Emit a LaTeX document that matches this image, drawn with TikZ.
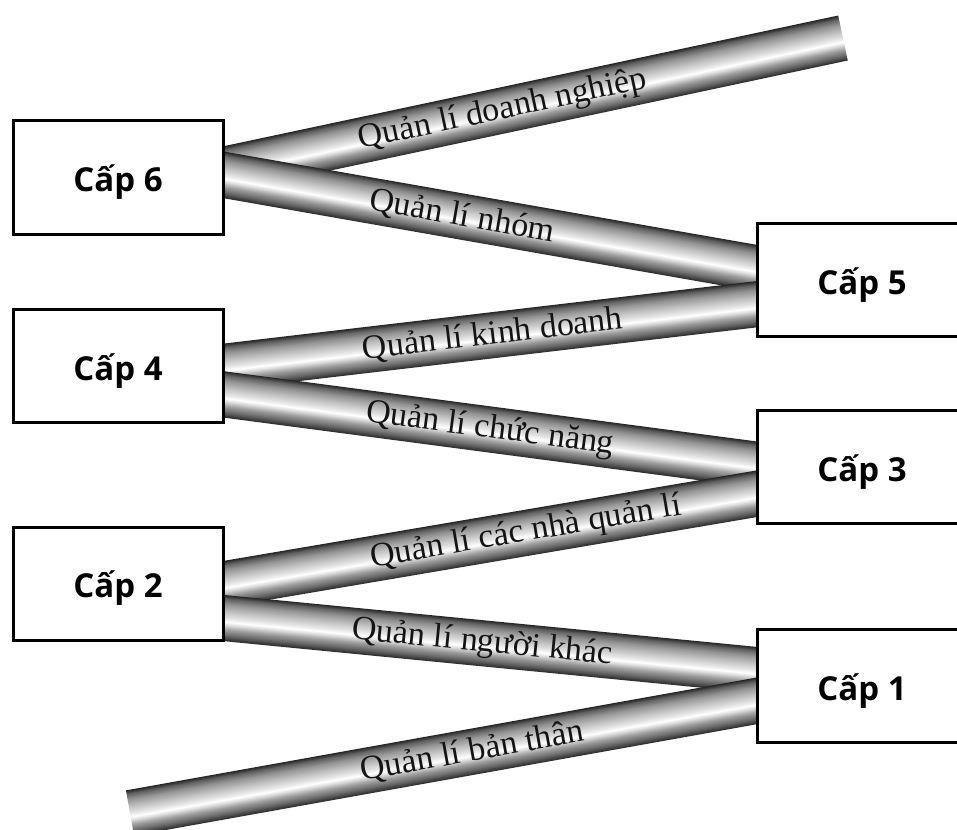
\documentclass[tikz,border=0pt]{standalone}
\usepackage{fontspec}
\setmainfont{Liberation Serif}
\newfontfamily\boxfont{Open Sans}
\usetikzlibrary{calc}
\pgfdeclareverticalshading{metal}{100bp}{%
  color(0bp)=(black!85);
  color(25bp)=(black!85);
  color(31bp)=(black!60);
  color(37.5bp)=(black!38);
  color(43bp)=(black!12);
  color(46bp)=(white);
  color(50bp)=(black!10);
  color(57.5bp)=(black!25);
  color(65bp)=(black!42);
  color(71bp)=(black!62);
  color(75bp)=(black!85);
  color(100bp)=(black!85)}
\newcommand\metalrod[2]{%
  \path let \p1=(#1), \p2=(#2) in
    \pgfextra{\pgfmathsetmacro\rodangtmp{atan2(\y2-\y1,\x2-\x1)}%
      \pgfmathsetmacro\rodlentmp{veclen(\x2-\x1,\y2-\y1)}%
      \xdef\rodang{\rodangtmp}\xdef\rodlen{\rodlentmp}};
  \begin{scope}[transform canvas={shift={(#1)},rotate=\rodang}]
    \shade[shading=metal] (0pt,-23pt) rectangle (\rodlen pt,23pt);
  \end{scope}}
\tikzset{
  levelbox/.style={draw=black, line width=3pt, fill=white, minimum width=210pt,
    minimum height=113pt, inner sep=0pt,
    font=\boxfont\bfseries\fontsize{33}{38}\selectfont},
  rodlabel/.style={sloped, inner sep=0pt, text=black!92,
    font=\fontsize{34}{39}\selectfont}
}
\newcommand\boxtext[1]{\raisebox{-5pt}[\height][\depth]{#1}}
\begin{document}
\begin{tikzpicture}[x=1pt,y=-1pt]
\useasboundingbox (0,0) rectangle (957,829);
\clip (0,0) rectangle (957,829);
\coordinate (c6) at (118,177.5);
\coordinate (c4) at (118,366);
\coordinate (c2) at (118,583.5);
\coordinate (c5) at (862,280);
\coordinate (c3) at (862,467);
\coordinate (c1) at (862,686);
% rod end points
\coordinate (a1) at ($(c6)+(95,-5.5)$);
\coordinate (f1) at (843,38);
\coordinate (a2) at ($(c6)+(95,-4.5)$);
\coordinate (b2) at ($(c5)+(-95,-10)$);
\coordinate (a3) at ($(c4)+(95,2)$);
\coordinate (b3) at ($(c5)+(-95,23)$);
\coordinate (a4) at ($(c4)+(95,27)$);
\coordinate (b4) at ($(c3)+(-95,-1)$);
\coordinate (a5) at ($(c2)+(95,2.5)$);
\coordinate (b5) at ($(c3)+(-95,25)$);
\coordinate (a6) at ($(c2)+(95,33.5)$);
\coordinate (b6) at ($(c1)+(-95,-15)$);
\coordinate (f7) at (130,813);
\coordinate (b7) at ($(c1)+(-95,13)$);
% rods with labels
\metalrod{a1}{f1}
\path (a1) -- (f1) node[rodlabel, pos=0.46] {Quản lí doanh nghiệp};
\metalrod{a2}{b2}
\path (a2) -- (b2) node[rodlabel, pos=0.45] {Quản lí nhóm};
\metalrod{a3}{b3}
\path (a3) -- (b3) node[rodlabel, pos=0.505] {Quản lí kinh doanh};
\metalrod{a4}{b4}
\path (a4) -- (b4) node[rodlabel, pos=0.50] {Quản lí chức năng};
\metalrod{a5}{b5}
\path (a5) -- (b5) node[rodlabel, pos=0.565] {Quản lí các nhà quản lí};
\metalrod{a6}{b6}
\path (a6) -- (b6) node[rodlabel, pos=0.486] {Quản lí người khác};
\metalrod{f7}{b7}
\path (f7) -- (b7) node[rodlabel, pos=0.537] {Quản lí bản thân};
% boxes
\node[levelbox] (n6) at (c6) {\boxtext{Cấp 6}};
\node[levelbox] (n4) at (c4) {\boxtext{Cấp 4}};
\node[levelbox] (n2) at (c2) {\boxtext{Cấp 2}};
\node[levelbox] (n5) at (c5) {\boxtext{Cấp 5}};
\node[levelbox] (n3) at (c3) {\boxtext{Cấp 3}};
\node[levelbox] (n1) at (c1) {\boxtext{Cấp 1}};
\end{tikzpicture}
\end{document}
